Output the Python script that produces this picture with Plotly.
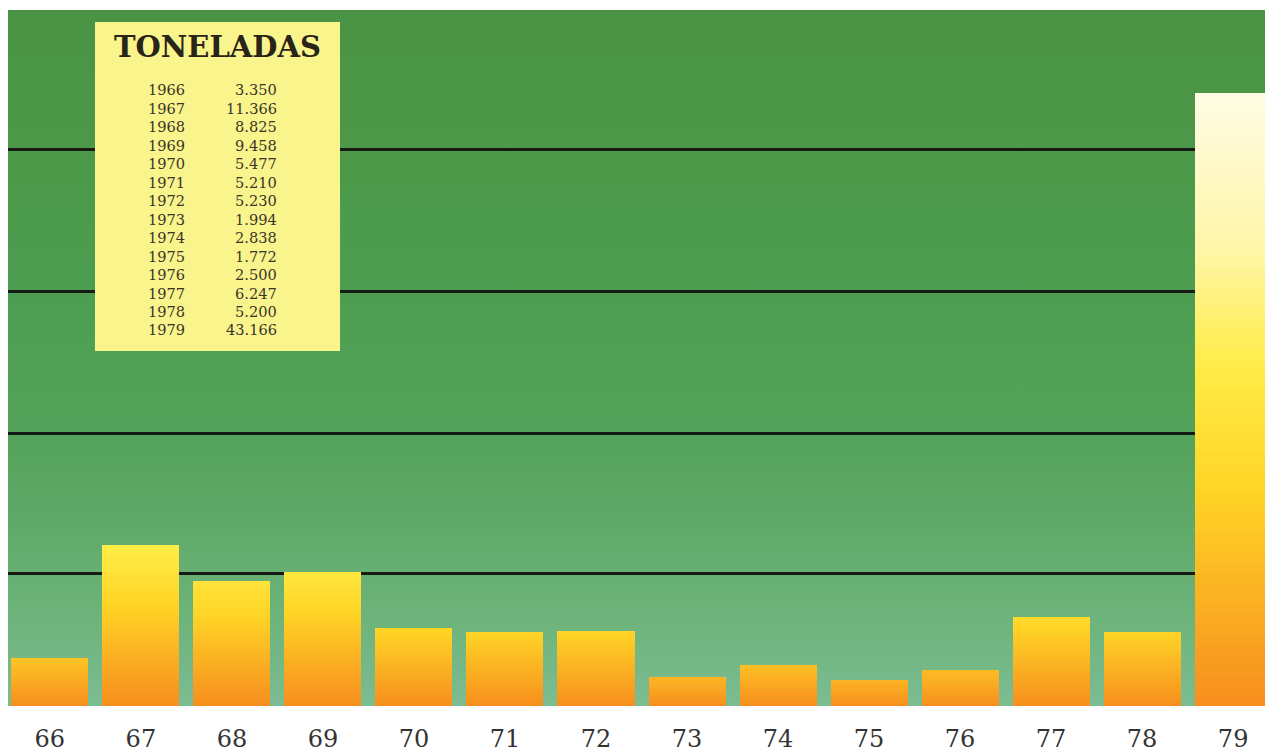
import base64
import plotly.graph_objects as go

# datos de la grafica (toneladas por año)
years = ["66", "67", "68", "69", "70", "71", "72", "73", "74", "75", "76", "77", "78", "79"]
toneladas = [3350, 11366, 8825, 9458, 5477, 5210, 5230, 1994, 2838, 1772, 2500, 6247, 5200, 43166]
guide_lines = [9300, 19200, 29200, 39200]

W, H = 1265, 754
PL, PR, PT, PB = 8, 0, 10, 48
plot_w = W - PL - PR
plot_h = H - PT - PB


def px_x(px):
    return (px - PL) / plot_w


def px_y(py):
    return (H - PB - py) / plot_h


def mix(c1, c2, f):
    return tuple(round(a + (b - a) * f) for a, b in zip(c1, c2))


# gradiente naranja -> amarillo -> crema
bar_stops = [
    (0.0, (247, 142, 30)),
    (0.15, (250, 172, 34)),
    (0.35, (255, 212, 38)),
    (0.55, (255, 236, 70)),
    (0.75, (255, 246, 170)),
    (1.0, (255, 252, 228)),
]


def bar_color(level):
    level = max(0.0, min(1.0, level))
    for (p0, c0), (p1, c1) in zip(bar_stops, bar_stops[1:]):
        if level <= p1:
            c = mix(c0, c1, (level - p0) / (p1 - p0))
            return "rgb(%d,%d,%d)" % c
    return "rgb(%d,%d,%d)" % bar_stops[-1][1]


def top_level(v):
    return min(1.0, 0.56 * (v / 11366) ** 0.6)


fig = go.Figure()

N = 60
for k in range(N):
    t = (k + 0.5) / N
    fig.add_trace(go.Bar(
        x=years,
        y=[v / N for v in toneladas],
        marker=dict(color=[bar_color(t * top_level(v)) for v in toneladas], line=dict(width=0)),
        hoverinfo="skip",
        showlegend=False,
    ))

# fondo verde degradado
svg = (
    '<svg xmlns="http://www.w3.org/2000/svg" width="100" height="100" preserveAspectRatio="none">'
    '<defs><linearGradient id="g" x1="0" y1="0" x2="0" y2="1">'
    '<stop offset="0" stop-color="#4a9345"/>'
    '<stop offset="0.2" stop-color="#4c9848"/>'
    '<stop offset="0.42" stop-color="#4d9e52"/>'
    '<stop offset="0.63" stop-color="#55a35c"/>'
    '<stop offset="0.73" stop-color="#5fa968"/>'
    '<stop offset="0.88" stop-color="#6eb47c"/>'
    '<stop offset="1" stop-color="#7cbc92"/>'
    '</linearGradient></defs>'
    '<rect width="100" height="100" fill="url(#g)"/></svg>'
)
bg_src = "data:image/svg+xml;base64," + base64.b64encode(svg.encode()).decode()

fig.add_layout_image(
    source=bg_src, xref="paper", yref="paper", x=0, y=1,
    sizex=1, sizey=1, sizing="stretch", layer="below", xanchor="left", yanchor="top",
)

# cuadro de toneladas
fig.add_shape(
    type="rect", xref="paper", yref="paper",
    x0=px_x(95), x1=px_x(340), y0=px_y(351), y1=px_y(22),
    fillcolor="#f9f48c", line=dict(width=0), layer="above",
)
fig.add_annotation(
    xref="paper", yref="paper", x=px_x(217), y=px_y(47),
    text="<b>TONELADAS</b>", showarrow=False, xanchor="center", yanchor="middle",
    font=dict(family="DejaVu Serif", size=29, color="#2a2418"),
)
row_font = dict(family="DejaVu Serif", size=14.6, color="#3a3428")
for i, (y, v) in enumerate(zip(years, toneladas)):
    row_y = px_y(90 + i * 18.46)
    fig.add_annotation(
        xref="paper", yref="paper", x=px_x(146), y=row_y,
        text="19" + y, showarrow=False, xanchor="left", yanchor="middle",
        font=row_font,
    )
    fig.add_annotation(
        xref="paper", yref="paper", x=px_x(279), y=row_y,
        text=f"{v:,}".replace(",", "."), showarrow=False, xanchor="right", yanchor="middle",
        font=row_font,
    )

fig.update_layout(
    width=W, height=H,
    margin=dict(l=PL, r=PR, t=PT, b=PB, pad=0),
    barmode="stack", bargap=0.154,
    paper_bgcolor="white", plot_bgcolor="#5aa25f",
    showlegend=False,
    xaxis=dict(
        type="category", range=[-0.46, 13.35], showgrid=False, zeroline=False,
        showline=False, ticks="", ticklabelstandoff=16,
        tickfont=dict(family="DejaVu Serif", size=24, color="#333333"),
    ),
    yaxis=dict(
        range=[0, 49000], tickvals=guide_lines, showticklabels=False,
        showgrid=True, gridcolor="#151a14", gridwidth=3, zeroline=False, showline=False,
    ),
)

fig.write_html(
    "out.html",
    config={"displayModeBar": False},
    post_script="document.body.style.margin='0';",
)
